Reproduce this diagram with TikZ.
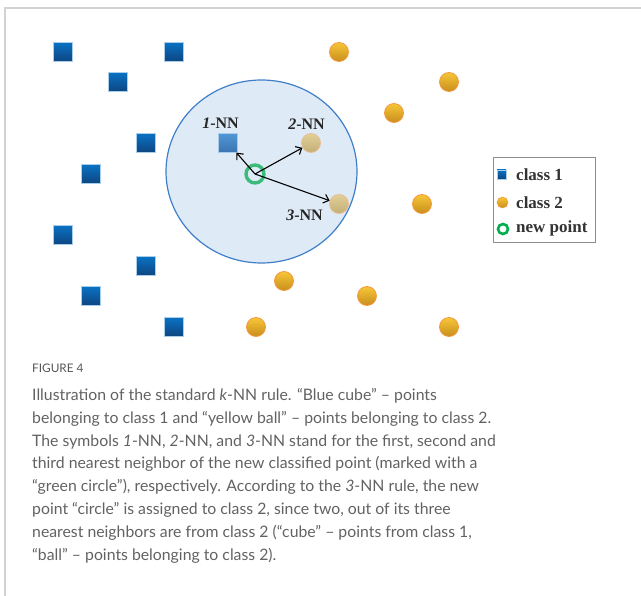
\documentclass[tikz,border=0pt]{standalone}
\usepackage{fontspec}
\setmainfont{Liberation Serif}
\newfontfamily\capfont{Lato}
\usetikzlibrary{arrows.meta,shapes.geometric}

\definecolor{cubetop}{HTML}{0A72C4}
\definecolor{cubebot}{HTML}{0D4580}
\definecolor{cubefadetop}{HTML}{5197D6}
\definecolor{cubefadebot}{HTML}{3A74B0}
\definecolor{balltop}{HTML}{F7C636}
\definecolor{ballbot}{HTML}{C88E1E}
\definecolor{ballrim}{HTML}{F39A3F}
\definecolor{ballfadetop}{HTML}{E2D097}
\definecolor{ballfadebot}{HTML}{C2AF78}
\definecolor{ballfaderim}{HTML}{E9BC92}
\definecolor{zonefill}{HTML}{DFEAF7}
\definecolor{zoneedge}{HTML}{3F7FC8}
\definecolor{ringgreen}{HTML}{3DBB7A}
\definecolor{legendgreen}{HTML}{00AE4D}
\definecolor{framegray}{HTML}{D2D2D2}
\definecolor{captiongray}{HTML}{626262}
\definecolor{headgray}{HTML}{555555}
\definecolor{legendtext}{HTML}{333333}

\tikzset{
  cube/.style={rectangle, minimum size=19pt, inner sep=0pt,
    top color=cubetop, bottom color=cubebot, draw=cubetop!35!white, line width=0.4pt},
  cubefade/.style={cube, top color=cubefadetop, bottom color=cubefadebot, draw=cubefadetop!50!white},
  ball/.style={circle, minimum size=19pt, inner sep=0pt,
    top color=balltop, bottom color=ballbot, draw=ballrim, line width=0.8pt},
  ballfade/.style={ball, top color=ballfadetop, bottom color=ballfadebot, draw=ballfaderim},
  newring/.style={circle, minimum size=18pt, inner sep=0pt, draw=ringgreen, line width=3.4pt},
  nnarrow/.style={-{Straight Barb[length=5pt,width=9pt]}, line width=1.1pt, black},
  nnlabel/.style={anchor=base, font=\fontsize{16}{16}\selectfont\bfseries, text=black!85, inner sep=0pt},
  legtext/.style={anchor=base west, font=\fontsize{17}{17}\selectfont\bfseries, text=legendtext, inner sep=0pt},
  captext/.style={anchor=base west, font=\capfont\fontsize{15.8}{15.8}\selectfont, text=captiongray, inner sep=0pt},
}

\begin{document}
\begin{tikzpicture}[x=1pt,y=-1pt]
\path[use as bounding box] (0,0) rectangle (641,596);

% panel frame
\coordinate (ftop) at (641,8);
\coordinate (fcorner) at (5,8);
\coordinate (fbot) at (5,596);
\draw[framegray, line width=1.5pt] (ftop) -- (fcorner) -- (fbot);

% class 1 points
\node[cube] (c1) at (63,52) {};
\node[cube] (c2) at (174,52) {};
\node[cube] (c3) at (118,82) {};
\node[cube] (c4) at (146,143) {};
\node[cube] (c5) at (91,174) {};
\node[cube] (c6) at (63,235) {};
\node[cube] (c7) at (146,266) {};
\node[cube] (c8) at (91,296) {};
\node[cube] (c9) at (174,327) {};

% class 2 points
\node[ball] (b1) at (339,52) {};
\node[ball] (b2) at (449,82) {};
\node[ball] (b3) at (394,113) {};
\node[ball] (b4) at (422,204) {};
\node[ball] (b5) at (284,281) {};
\node[ball] (b6) at (367,296) {};
\node[ball] (b7) at (256,327) {};
\node[ball] (b8) at (449,327) {};

% neighbourhood of the new point
\node[ellipse, minimum width=191pt, minimum height=183pt, inner sep=0pt,
      fill=zonefill, draw=zoneedge, line width=1.2pt] (zone) at (261.5,171.5) {};

\node[cubefade] (nn1) at (228,143) {};
\node[ballfade] (nn2) at (311,143) {};
\node[ballfade] (nn3) at (339,204) {};

\node[newring] (newpt) at (255,174) {};

\draw[nnarrow] (newpt.center) -- (nn1);
\draw[nnarrow] (newpt.center) -- (nn2);
\draw[nnarrow] (newpt.center) -- (nn3);

\node[nnlabel] (l1) at (220.5,129) {\textit{1}-NN};
\node[nnlabel] (l2) at (306.5,130) {\textit{2}-NN};
\node[nnlabel] (l3) at (304.5,221) {\textit{3}-NN};

% legend
\node[draw=black!45, line width=0.8pt, minimum width=102pt, minimum height=85pt,
      inner sep=0pt, anchor=north west] (legend) at (493,157) {};
\node[cube, minimum size=9pt, line width=0.3pt] (kc) at (501.5,174.5) {};
\node[ball, minimum size=11pt, line width=0.6pt] (kb) at (502.5,202.5) {};
\node[circle, minimum size=10pt, inner sep=0pt, draw=legendgreen, line width=2.6pt] (kn) at (503,229) {};
\node[legtext] (t1) at (516,180.7) {class 1};
\node[legtext] (t2) at (516,208.3) {class 2};
\node[legtext] (t3) at (516,232.7) {new point};

% caption
\node[captext, text=headgray, font=\capfont\fontsize{11.8}{11.8}\selectfont] (fig) at (32,372.7) {FIGURE 4};
\node[captext] (cap1) at (32,400.6) {Illustration of the standard \textit{k}-NN rule. “Blue cube” – points};
\node[captext] (cap2) at (32,423.4) {belonging to class 1 and “yellow ball” – points belonging to class 2.};
\node[captext] (cap3) at (32,446.2) {The symbols \textit{1}-NN, \textit{2}-NN, and \textit{3}-NN stand for the first, second and};
\node[captext] (cap4) at (32,469.0) {third nearest neighbor of the new classified point (marked with a};
\node[captext] (cap5) at (32,491.8) {“green circle”), respectively. According to the \textit{3}-NN rule, the new};
\node[captext] (cap6) at (32,514.6) {point “circle” is assigned to class 2, since two, out of its three};
\node[captext] (cap7) at (32,537.4) {nearest neighbors are from class 2 (“cube” – points from class 1,};
\node[captext] (cap8) at (32,560.2) {“ball” – points belonging to class 2).};
\end{tikzpicture}
\end{document}
